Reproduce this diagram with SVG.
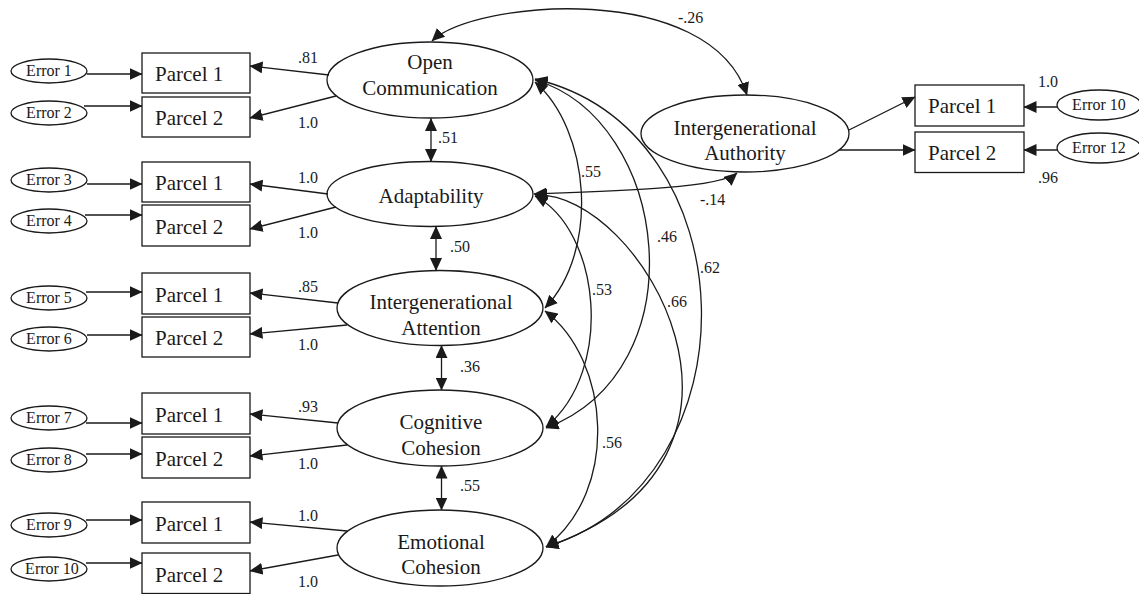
<svg xmlns="http://www.w3.org/2000/svg" width="1139" height="594" viewBox="0 0 1139 594">
<style>
.bg{fill:#ffffff}
.box{fill:#ffffff;stroke:#1a1a1a;stroke-width:1.3}
.ell{fill:#ffffff;stroke:#1a1a1a;stroke-width:1.3}
.t{font-family:'Liberation Serif','Times New Roman',Times,'DejaVu Serif','Noto Serif',serif;fill:#1a1a1a}
.lat{font-size:21px;text-anchor:middle}
.par{font-size:21px}
.err{font-size:16px;text-anchor:middle}
.co{font-size:16px}
.ln{fill:none;stroke:#1a1a1a;stroke-width:1.3}
.a1{marker-end:url(#ah)}
.a2{marker-start:url(#ah);marker-end:url(#ah)}
</style>
<defs>
<marker id="ah" viewBox="0 0 13 12" refX="12.5" refY="6" markerWidth="13" markerHeight="12" markerUnits="userSpaceOnUse" orient="auto-start-reverse">
<path d="M0,0 L13,6 L0,12 z" fill="#1a1a1a"/>
</marker>
</defs>
<rect class="bg" x="0" y="0" width="1139" height="594"/>

<g font-family="Liberation Serif, Times New Roman, DejaVu Serif, serif">
<!-- Error nodes left -->
<g id="error1"><ellipse class="ell" cx="49" cy="71" rx="38" ry="12"/><text class="t err" x="49" y="76">Error 1</text></g>
<g id="error2"><ellipse class="ell" cx="49" cy="113" rx="38" ry="12"/><text class="t err" x="49" y="118">Error 2</text></g>
<g id="error3"><ellipse class="ell" cx="49" cy="180" rx="38" ry="12"/><text class="t err" x="49" y="185">Error 3</text></g>
<g id="error4"><ellipse class="ell" cx="49" cy="221" rx="38" ry="12"/><text class="t err" x="49" y="226">Error 4</text></g>
<g id="error5"><ellipse class="ell" cx="49" cy="298" rx="38" ry="12"/><text class="t err" x="49" y="303">Error 5</text></g>
<g id="error6"><ellipse class="ell" cx="49" cy="339" rx="38" ry="12"/><text class="t err" x="49" y="344">Error 6</text></g>
<g id="error7"><ellipse class="ell" cx="49" cy="418" rx="38" ry="12"/><text class="t err" x="49" y="423">Error 7</text></g>
<g id="error8"><ellipse class="ell" cx="49" cy="460" rx="38" ry="12"/><text class="t err" x="49" y="465">Error 8</text></g>
<g id="error9"><ellipse class="ell" cx="49" cy="525" rx="38" ry="12"/><text class="t err" x="49" y="530">Error 9</text></g>
<g id="error10"><ellipse class="ell" cx="49" cy="569" rx="38" ry="12"/><text class="t err" x="52" y="574">Error 10</text></g>

<!-- Parcel boxes left -->
<g id="oc_p1"><rect class="box" x="142" y="53" width="108" height="40"/><text class="t par" x="155" y="81">Parcel 1</text></g>
<g id="oc_p2"><rect class="box" x="142" y="97" width="108" height="40"/><text class="t par" x="155" y="125">Parcel 2</text></g>
<g id="ad_p1"><rect class="box" x="142" y="162" width="108" height="40"/><text class="t par" x="155" y="190">Parcel 1</text></g>
<g id="ad_p2"><rect class="box" x="142" y="205" width="108" height="41"/><text class="t par" x="155" y="234">Parcel 2</text></g>
<g id="ia_p1"><rect class="box" x="142" y="273" width="108" height="41"/><text class="t par" x="155" y="302">Parcel 1</text></g>
<g id="ia_p2"><rect class="box" x="142" y="317" width="108" height="40"/><text class="t par" x="155" y="345">Parcel 2</text></g>
<g id="cc_p1"><rect class="box" x="142" y="393" width="108" height="41"/><text class="t par" x="155" y="422">Parcel 1</text></g>
<g id="cc_p2"><rect class="box" x="142" y="437" width="108" height="41"/><text class="t par" x="155" y="466">Parcel 2</text></g>
<g id="ec_p1"><rect class="box" x="142" y="502" width="108" height="41"/><text class="t par" x="155" y="531">Parcel 1</text></g>
<g id="ec_p2"><rect class="box" x="142" y="553" width="108" height="40.5"/><text class="t par" x="155" y="582">Parcel 2</text></g>

<!-- Latent nodes -->
<g id="open_communication"><ellipse class="ell" cx="430" cy="80" rx="103" ry="38"/><text class="t lat" x="430" y="69">Open</text><text class="t lat" x="430" y="95">Communication</text></g>
<g id="adaptability"><ellipse class="ell" cx="430" cy="194" rx="103" ry="32.5"/><text class="t lat" x="431" y="203">Adaptability</text></g>
<g id="intergenerational_attention"><ellipse class="ell" cx="440" cy="308" rx="103" ry="37.5"/><text class="t lat" x="441" y="309">Intergenerational</text><text class="t lat" x="441" y="335">Attention</text></g>
<g id="cognitive_cohesion"><ellipse class="ell" cx="440" cy="428" rx="103" ry="38"/><text class="t lat" x="441" y="429">Cognitive</text><text class="t lat" x="441" y="455">Cohesion</text></g>
<g id="emotional_cohesion"><ellipse class="ell" cx="440" cy="548" rx="103" ry="38"/><text class="t lat" x="441" y="549">Emotional</text><text class="t lat" x="441" y="574">Cohesion</text></g>
<g id="intergenerational_authority"><ellipse class="ell" cx="745" cy="133.5" rx="104" ry="38.5"/><text class="t lat" x="745" y="135">Intergenerational</text><text class="t lat" x="745" y="160">Authority</text></g>

<!-- Right side nodes -->
<g id="ia_auth_p1"><rect class="box" x="915" y="85" width="109" height="41"/><text class="t par" x="928" y="113">Parcel 1</text></g>
<g id="ia_auth_p2"><rect class="box" x="915" y="132" width="109" height="40.5"/><text class="t par" x="928" y="160">Parcel 2</text></g>
<g id="error10_right"><ellipse class="ell" cx="1099" cy="105" rx="42" ry="15"/><text class="t err" x="1099" y="110">Error 10</text></g>
<g id="error12_right"><ellipse class="ell" cx="1099" cy="148" rx="42" ry="15"/><text class="t err" x="1099" y="153">Error 12</text></g>

<!-- Connectors -->
<g id="connectors">
<line class="ln a1" x1="87" y1="74" x2="142" y2="74"/>
<line class="ln a1" x1="84" y1="106" x2="142" y2="106"/>
<line class="ln a1" x1="87" y1="184" x2="142" y2="184"/>
<line class="ln a1" x1="85" y1="215" x2="142" y2="215"/>
<line class="ln a1" x1="86" y1="292" x2="142" y2="292"/>
<line class="ln a1" x1="87" y1="335" x2="142" y2="335"/>
<line class="ln a1" x1="86" y1="423" x2="142" y2="423"/>
<line class="ln a1" x1="86" y1="454" x2="142" y2="454"/>
<line class="ln a1" x1="86" y1="520" x2="142" y2="520"/>
<line class="ln a1" x1="86" y1="563" x2="142" y2="563"/>
<line class="ln a1" x1="329" y1="75" x2="250" y2="66"/>
<line class="ln a1" x1="336" y1="96" x2="250" y2="118"/>
<line class="ln a1" x1="328" y1="194" x2="250" y2="184"/>
<line class="ln a1" x1="336" y1="207" x2="250" y2="229"/>
<line class="ln a1" x1="338" y1="303" x2="250" y2="293"/>
<line class="ln a1" x1="347" y1="325" x2="250" y2="334"/>
<line class="ln a1" x1="338" y1="423" x2="250" y2="414"/>
<line class="ln a1" x1="347" y1="445" x2="250" y2="456"/>
<line class="ln a1" x1="347" y1="531" x2="250" y2="522"/>
<line class="ln a1" x1="338" y1="555" x2="250" y2="571"/>
<line class="ln a1" x1="849" y1="130" x2="915" y2="97"/>
<line class="ln a1" x1="839" y1="150" x2="915" y2="150"/>
<line class="ln a1" x1="1057" y1="107" x2="1024" y2="107"/>
<line class="ln a1" x1="1057" y1="150" x2="1024" y2="150"/>
<line class="ln a2" x1="431" y1="118.5" x2="431" y2="161.5"/>
<line class="ln a2" x1="436" y1="226.5" x2="436" y2="270.5"/>
<line class="ln a2" x1="441.5" y1="345.5" x2="441.5" y2="390"/>
<line class="ln a2" x1="441.5" y1="466" x2="441.5" y2="510"/>
<path class="ln a2" d="M432,41 C475,0 710,-20 747,95"/>
<path class="ln a2" d="M534,194 C620,191 720,188 737,173"/>
<path class="ln a2" d="M535,82 C590,130 600,250 545,308"/>
<path class="ln a2" d="M535,80 C670,120 700,370 546,428"/>
<path class="ln a2" d="M535,79 C750,130 760,480 546,547"/>
<path class="ln a2" d="M535,196 C600,230 615,370 546,427"/>
<path class="ln a2" d="M535,195 C640,190 800,460 546,547"/>
<path class="ln a2" d="M545,311 C610,360 620,490 546,547"/>
</g>

<g id="labels">
<text class="t co" x="298" y="63">.81</text>
<text class="t co" x="298" y="128">1.0</text>
<text class="t co" x="298" y="183">1.0</text>
<text class="t co" x="298" y="238">1.0</text>
<text class="t co" x="298" y="292">.85</text>
<text class="t co" x="298" y="350">1.0</text>
<text class="t co" x="298" y="412">.93</text>
<text class="t co" x="298" y="469">1.0</text>
<text class="t co" x="298" y="521">1.0</text>
<text class="t co" x="298" y="587">1.0</text>
<text class="t co" x="438" y="143">.51</text>
<text class="t co" x="450" y="252">.50</text>
<text class="t co" x="460" y="372">.36</text>
<text class="t co" x="460" y="491">.55</text>
<text class="t co" x="678" y="23">-.26</text>
<text class="t co" x="700" y="205">-.14</text>
<text class="t co" x="581" y="177">.55</text>
<text class="t co" x="657" y="242">.46</text>
<text class="t co" x="700" y="273">.62</text>
<text class="t co" x="592" y="295">.53</text>
<text class="t co" x="667" y="307">.66</text>
<text class="t co" x="602" y="448">.56</text>
<text class="t co" x="1038" y="87">1.0</text>
<text class="t co" x="1038" y="183">.96</text>
</g>
</g>
</svg>
